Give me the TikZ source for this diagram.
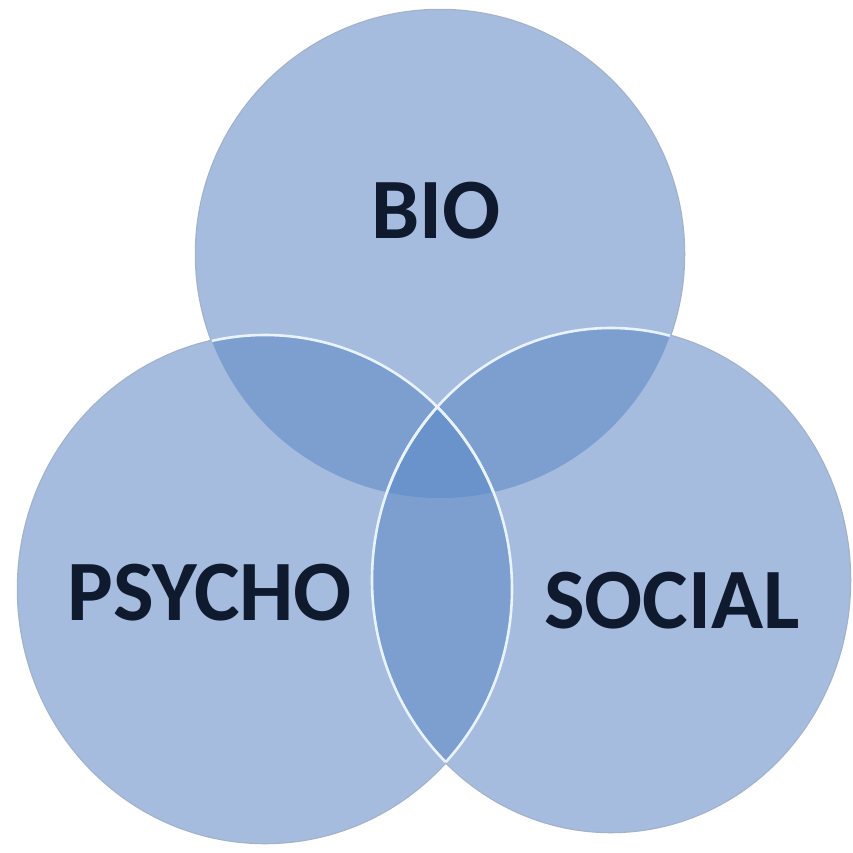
\documentclass[tikz,border=0pt]{standalone}
\usepackage{fontspec}
\setmainfont{Carlito}
\definecolor{basec}{HTML}{A6BCDF}
\definecolor{dblc}{HTML}{7C9FD0}
\definecolor{trpc}{HTML}{6B93CB}
\definecolor{edgec}{HTML}{A2B2C8}
\definecolor{hilite}{HTML}{E8F3FF}
\definecolor{labelc}{HTML}{0F1A2E}
\begin{document}
\begin{tikzpicture}[x=1pt,y=-1pt,
  outerline/.style={draw=edgec,line width=2.5pt},
  hiline/.style={draw=hilite,line width=2.6pt},
  lbl/.style={font=\fontsize{86}{90}\selectfont\bfseries,text=labelc,inner sep=0pt,anchor=base}]
\useasboundingbox (0,0) rectangle (853,852);
\def\topc{(440,254) circle[radius=244pt]}
\def\leftc{(265,589) ellipse[x radius=247pt,y radius=254pt]}
\def\rightc{(611,580) ellipse[x radius=239pt,y radius=252pt]}
% soft outer edges
\path[outerline] \topc;
\path[outerline] \leftc;
\path[outerline] \rightc;
% base fills
\fill[basec] \topc;
\fill[basec] \leftc;
\fill[basec] \rightc;
% pairwise overlaps
\begin{scope}\clip \topc; \fill[dblc] \leftc; \end{scope}
\begin{scope}\clip \topc; \fill[dblc] \rightc; \end{scope}
\begin{scope}\clip \leftc; \fill[dblc] \rightc; \end{scope}
% triple overlap
\begin{scope}\clip \topc; \clip \leftc; \fill[trpc] \rightc; \end{scope}
% white highlight outlines of the lower circles inside the others
\begin{scope}\clip \topc; \path[hiline] \leftc; \end{scope}
\begin{scope}\clip \rightc; \path[hiline] \leftc; \end{scope}
\begin{scope}\clip \topc; \path[hiline] \rightc; \end{scope}
\begin{scope}\clip \leftc; \path[hiline] \rightc; \end{scope}
% labels
\node[lbl] (bio) at (436,238) {BIO};
\node[lbl] (psycho) at (210,620) {PSYCHO};
\node[lbl] (social) at (672,628) {SOCIAL};
\end{tikzpicture}
\end{document}
